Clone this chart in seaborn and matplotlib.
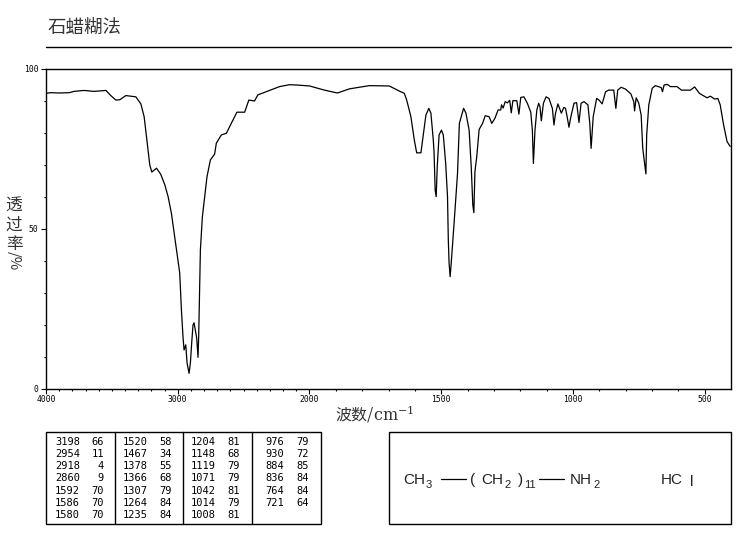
import numpy as np
import pandas as pd
import matplotlib
matplotlib.use("Agg")
import matplotlib.pyplot as plt
from matplotlib.patches import Rectangle
import seaborn as sns

title = "石蜡糊法"
x_label = r"波数/$\mathrm{cm}^{-1}$"

wavenumber = [
    4000, 3962, 3902, 3823, 3788, 3712, 3636, 3545, 3508, 3470, 3439, 3394, 3318, 3280, 3255, 3237,
    3225, 3212, 3197, 3161, 3129, 3098, 3073, 3048, 3023, 3002, 2985, 2972, 2960, 2952, 2939, 2929,
    2914, 2904, 2894, 2884, 2876, 2864, 2856, 2846, 2841, 2833, 2828, 2813, 2795, 2778, 2752, 2720,
    2707, 2669, 2631, 2593, 2551, 2492, 2460, 2417, 2392, 2328, 2227, 2151, 2098, 2000, 1943, 1894,
    1848, 1773, 1697, 1659, 1640, 1631, 1615, 1602, 1593, 1577, 1564, 1558, 1547, 1539, 1530, 1527,
    1523, 1519, 1515, 1508, 1499, 1492, 1483, 1476, 1473, 1470, 1466, 1462, 1451, 1438, 1431, 1415,
    1406, 1394, 1386, 1380, 1376, 1372, 1365, 1356, 1343, 1333, 1318, 1308, 1296, 1284, 1274, 1271,
    1265, 1257, 1249, 1240, 1234, 1228, 1213, 1205, 1198, 1186, 1173, 1160, 1154, 1150, 1144, 1137,
    1130, 1125, 1120, 1112, 1102, 1091, 1078, 1072, 1066, 1057, 1044, 1034, 1028, 1022, 1015, 1009,
    996, 986, 977, 969, 958, 943, 936, 931, 923, 910, 901, 889, 876, 864, 845, 837,
    830, 817, 800, 780, 769, 766, 760, 750, 741, 735, 727, 723, 720, 712, 699, 687,
    665, 660, 654, 642, 630, 605, 588, 554, 538, 520, 491, 478, 462, 450, 441, 428,
    415, 403,
]
transmittance = [
    92.4, 92.6, 92.5, 92.6, 93.0, 93.3, 93.0, 93.3, 91.7, 90.3, 90.4, 91.7, 91.3, 89.1, 85.1, 78.8,
    74.7, 70.0, 67.8, 69.0, 67.1, 63.8, 60.1, 54.9, 47.6, 41.3, 36.3, 24.7, 16.3, 12.2, 13.8, 8.1,
    4.9, 8.1, 14.4, 20.0, 20.7, 17.9, 15.9, 9.9, 16.3, 33.1, 43.4, 53.8, 60.1, 66.3, 71.6, 73.4,
    76.8, 79.4, 79.9, 83.0, 86.5, 86.5, 90.3, 90.0, 91.9, 92.9, 94.5, 95.1, 95.0, 94.7, 93.4, 92.5,
    93.8, 94.8, 94.7, 93.1, 92.4, 90.3, 85.1, 77.8, 73.8, 73.8, 81.9, 85.6, 87.7, 86.2, 77.8, 73.8,
    62.2, 60.1, 69.5, 79.4, 80.9, 79.4, 70.5, 60.1, 46.6, 39.3, 35.1, 39.3, 51.9, 67.4, 83.0, 87.7,
    86.2, 80.9, 69.5, 57.5, 55.1, 67.9, 72.6, 81.1, 83.0, 85.4, 85.1, 83.0, 84.6, 87.2, 87.2, 88.8,
    87.8, 89.8, 89.4, 90.2, 86.3, 90.1, 90.1, 85.9, 91.1, 91.3, 89.3, 86.5, 80.9, 70.5, 80.9, 87.2,
    89.3, 88.2, 83.8, 89.3, 91.3, 90.8, 87.7, 82.5, 86.2, 89.1, 86.2, 88.0, 87.7, 85.1, 81.8, 84.6,
    89.3, 89.5, 83.3, 89.3, 89.8, 88.8, 83.0, 75.2, 85.1, 90.8, 90.3, 89.1, 92.9, 93.4, 93.4, 87.7,
    93.4, 94.3, 93.7, 92.2, 89.8, 86.9, 91.0, 89.3, 85.6, 75.2, 70.0, 67.2, 79.4, 88.8, 94.0, 94.8,
    94.2, 92.9, 95.0, 95.2, 94.5, 94.5, 93.4, 93.4, 94.4, 92.4, 91.0, 91.5, 90.6, 90.8, 88.8, 82.5,
    77.3, 75.8,
]

table_wn = [
    ["3198", "2954", "2918", "2860", "1592", "1586", "1580"],
    ["1520", "1467", "1378", "1366", "1307", "1264", "1235"],
    ["1204", "1148", "1119", "1071", "1042", "1014", "1008"],
    ["976", "930", "884", "836", "764", "721"],
]
table_t = [
    ["66", "11", "4", "9", "70", "70", "70"],
    ["58", "34", "55", "68", "79", "84", "84"],
    ["81", "68", "79", "79", "81", "79", "81"],
    ["79", "72", "85", "84", "84", "64"],
]
major_x = [4000, 3000, 2000, 1500, 1000, 500]
major_y = [0, 50, 100]

sns.set_theme(style="white")
plt.rcParams["font.family"] = ["Noto Sans CJK SC", "DejaVu Sans"]
plt.rcParams["mathtext.fontset"] = "dejavuserif"
plt.rcParams["axes.unicode_minus"] = False

W, H = 737, 539
fig = plt.figure(figsize=(W / 100, H / 100), dpi=100, facecolor="white")
ax = fig.add_axes([46 / W, 1 - 389 / H, 685 / W, 320 / H])


def forward(w):
    w = np.asarray(w, dtype=float)
    return np.where(w >= 2000, (w - 2000) * 0.5, w - 2000)


def inverse(u):
    u = np.asarray(u, dtype=float)
    return np.where(u >= 0, u * 2 + 2000, u + 2000)


ax.set_xscale("function", functions=(forward, inverse))
df = pd.DataFrame({"wavenumber": wavenumber, "transmittance": transmittance})
sns.lineplot(data=df, x="wavenumber", y="transmittance", sort=False, estimator=None,
             color="black", linewidth=0.9, ax=ax)
ax.set_xlim(4000, 400)
ax.set_ylim(0, 100)
ax.set_xlabel("")
ax.set_ylabel("")
ax.set_xticks(major_x)
ax.set_xticklabels([str(v) for v in major_x], family="DejaVu Sans Mono", fontsize=5.8, color="black")
ax.set_xticks(np.arange(500, 4000, 100), minor=True)
ax.set_yticks(major_y)
ax.set_yticklabels([str(v) for v in major_y], family="DejaVu Sans Mono", fontsize=5.8, color="black")
ax.set_yticks(np.arange(10, 100, 10), minor=True)
ax.tick_params(axis="x", which="major", length=3.6, width=0.8, color="black", pad=1, bottom=True)
ax.tick_params(axis="y", which="major", length=3.6, width=0.8, color="black", pad=2, left=True)
ax.tick_params(axis="both", which="minor", length=1.6, width=0.8, color="black", bottom=True, left=True)
for s in ax.spines.values():
    s.set_color("black")
    s.set_linewidth(1.0)
    s.set_visible(True)
ax.grid(False)

# Page overlay in pixel coordinates for the header, labels, table and formula.
pg = fig.add_axes([0, 0, 1, 1], facecolor="none")
pg.set_xlim(0, W)
pg.set_ylim(H, 0)
pg.axis("off")

grey = "#333333"
pg.text(48, 29, title, fontsize=13.3, color=grey, va="center", ha="left")
pg.plot([46, 731], [47, 47], color="black", lw=1.0)
pg.text(375, 414, x_label, fontsize=11.5, color=grey, ha="center", va="center")
for ch, y in zip("透过率", [206, 225, 244]):
    pg.text(14, y, ch, fontsize=12, color=grey, ha="center", va="center")
pg.text(14, 261, "/%", fontsize=10.5, color=grey, rotation=-90, ha="center", va="center")

# Peak table
pg.add_patch(Rectangle((46, 432), 275, 92, fill=False, ec="black", lw=1.0))
for x in [115, 183.5, 252.5]:
    pg.plot([x, x], [432, 524], color="black", lw=1.0)
rows = [441.7, 453.9, 466.2, 478.4, 490.6, 502.9, 515.2]
col_right = [(80, 104), (148, 172), (216, 240), (284, 309)]
for (rx1, rx2), wns, ts in zip(col_right, table_wn, table_t):
    for y, a, b in zip(rows, wns, ts):
        pg.text(rx1, y, a, family="DejaVu Sans Mono", fontsize=7.5, color="black", ha="right", va="center")
        pg.text(rx2, y, b, family="DejaVu Sans Mono", fontsize=7.5, color="black", ha="right", va="center")

# Formula box
pg.add_patch(Rectangle((389, 432), 342, 92, fill=False, ec="black", lw=1.0))
fs = 11
fc = "#222222"
fam = "Liberation Sans"
sty = dict(family=fam, fontsize=fs, color=fc, ha="left", va="baseline")
sub = dict(family=fam, fontsize=8, color=fc, ha="left", va="baseline")
pg.text(403, 484, "CH", **sty)
pg.text(426, 488, "3", **sub)
pg.plot([441, 466], [479, 479], color="black", lw=0.9)
pg.text(470, 484, "(", **sty)
pg.text(481, 484, "CH", **sty)
pg.text(504, 488, "2", **sub)
pg.text(518, 484, ")", **sty)
pg.text(524, 488, "11", **sub)
pg.plot([539, 564], [479, 479], color="black", lw=0.9)
pg.text(570, 484, "NH", **sty)
pg.text(593, 488, "2", **sub)
pg.text(661, 484, "HC", **sty)
pg.text(690, 486, "l", **sty)

fig.savefig("out.png", dpi=100, facecolor="white")
